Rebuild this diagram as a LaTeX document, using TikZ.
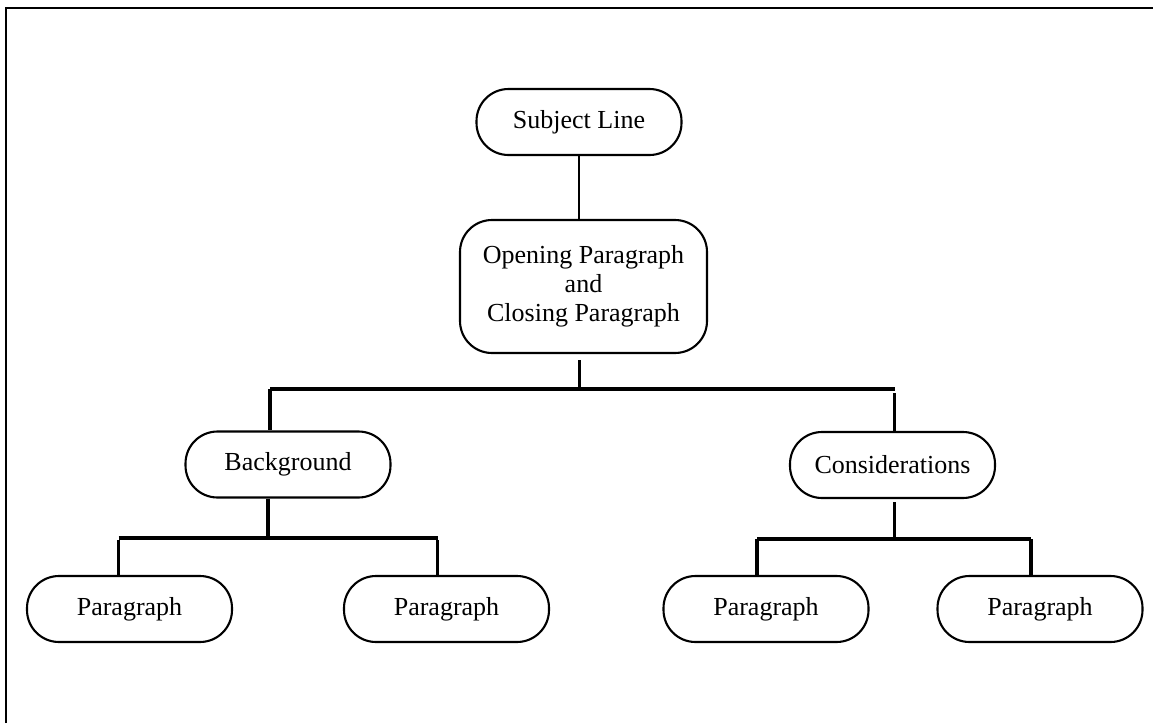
\documentclass[tikz,border=0pt]{standalone}
\usepackage{fontspec}
\setmainfont{Liberation Serif}
\begin{document}
\begin{tikzpicture}[x=1pt,y=-1pt,
  box/.style={draw,line width=2.1pt,rounded corners=32pt,minimum width=205pt,minimum height=66pt,inner sep=0pt,font=\fontsize{26}{28.8}\selectfont,align=center},
  conn/.style={line width=3.3pt},
  thinconn/.style={line width=2.1pt},
  frame/.style={line width=2.2pt}]
\useasboundingbox (0,0) rectangle (1153,723);
\draw[frame] (6,723) -- (6,8) -- (1153,8);

\node[box] (sub) at (579,122) {Subject Line};
\node[box,minimum width=247pt,minimum height=133pt] (open) at (583.5,286.5) {Opening Paragraph\\and\\Closing Paragraph};
\node[box] (bg) at (288,464.5) {Background};
\node[box] (cons) at (892.5,465) {Considerations};
\node[box] (p1) at (129.5,609) {Paragraph};
\node[box] (p2) at (446.5,609) {Paragraph};
\node[box] (p3) at (766,609) {Paragraph};
\node[box] (p4) at (1040,609) {Paragraph};

% top links
\coordinate (b0) at (579.5,389);
\coordinate (bL) at (270,389);
\coordinate (bR) at (894.5,389);
\draw[thinconn] (sub.south) -- (sub.south |- open.north);
\draw[conn] ([yshift=-6pt]b0 |- open.south) -- (b0);
\draw[conn] (bL) -- (bR);
\draw[conn] (bL) -- (bL |- bg.north);
\draw[conn] ([yshift=-4pt]bR) -- (bR |- cons.north);

% left branch
\coordinate (c0) at (268,538);
\coordinate (cL) at (118.7,538);
\coordinate (cR) at (437.5,538);
\draw[conn] (c0 |- bg.south) -- (c0);
\draw[conn] (cL) -- (cR);
\draw[conn] ([yshift=-2pt]cL) -- (cL |- p1.north);
\draw[conn] ([yshift=-2pt]cR) -- (cR |- p2.north);

% right branch
\coordinate (d0) at (894.5,539);
\coordinate (dL) at (757,539);
\coordinate (dR) at (1031,539);
\draw[conn] ([yshift=-3pt]d0 |- cons.south) -- (d0);
\draw[conn] (dL) -- (dR);
\draw[conn] (dL) -- (dL |- p3.north);
\draw[conn] (dR) -- (dR |- p4.north);
\end{tikzpicture}
\end{document}
